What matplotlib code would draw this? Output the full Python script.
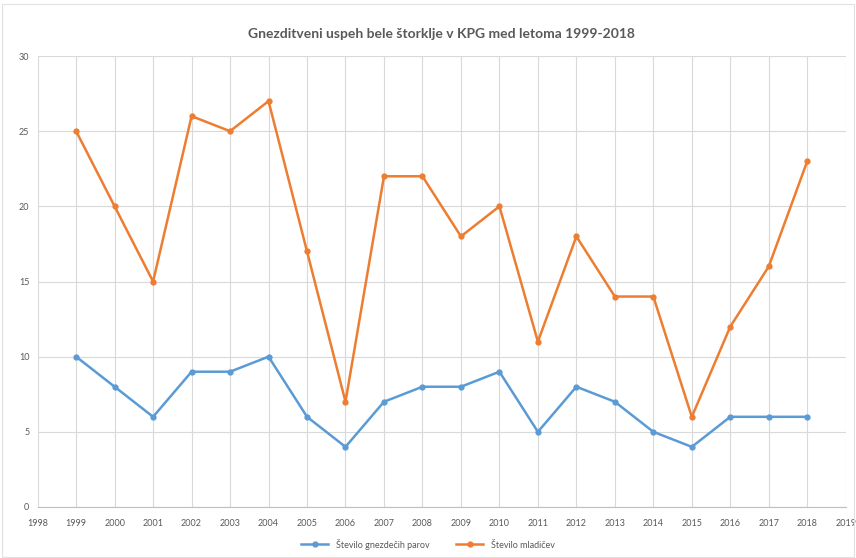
import matplotlib

matplotlib.use("Agg")
import matplotlib.pyplot as plt  # noqa: E402

YEARS = list(range(1999, 2019))
PAIRS = [10, 8, 6, 9, 9, 10, 6, 4, 7, 8, 8, 9, 5, 8, 7, 5, 4, 6, 6, 6]
CHICKS = [25, 20, 15, 26, 25, 27, 17, 7, 22, 22, 18, 20, 11, 18, 14, 14, 6, 12, 16, 23]
LABELS = ["Število gnezdečih parov", "Število mladičev"]
TITLE = "Gnezditveni uspeh bele štorklje v KPG med letoma 1999-2018"

plt.rcParams["font.family"] = ["Lato", "DejaVu Sans"]

fig = plt.figure(figsize=(8.56, 5.58), dpi=100)
ax = fig.add_axes([0.044, 0.0914, 0.944, 0.8082])

ax.plot(YEARS, PAIRS, color="#5B9BD5", lw=1.8, marker="o", ms=3.5, label=LABELS[0])
ax.plot(YEARS, CHICKS, color="#ED7D31", lw=1.8, marker="o", ms=3.5, label=LABELS[1])

ax.set_xlim(1998, 2019)
ax.set_ylim(0, 30)
ax.set_xticks(range(1998, 2020))
ax.set_yticks(range(0, 31, 5))
ax.grid(True, color="#D9D9D9", lw=0.8)
ax.set_axisbelow(True)
for side in ("top", "right", "left"):
    ax.spines[side].set_visible(False)
ax.spines["bottom"].set_color("#BFBFBF")
ax.tick_params(axis="x", length=0, labelsize=6.5, colors="#595959", pad=9)
ax.tick_params(axis="y", length=0, labelsize=6.5, colors="#595959", pad=6)

ax.set_title(TITLE, fontsize=10, fontweight="bold", color="#595959", pad=13)
fig.legend(loc="center", ncol=2, frameon=False, fontsize=6.5,
           bbox_to_anchor=(0.5, 0.025), labelcolor="#595959", handlelength=3,
           columnspacing=3)

fig.patches.append(plt.Rectangle((0.002, 0.002), 0.996, 0.99, transform=fig.transFigure,
                                 fill=False, edgecolor="#E0E0E0", lw=0.8))
fig.savefig("out.png", dpi=100)
